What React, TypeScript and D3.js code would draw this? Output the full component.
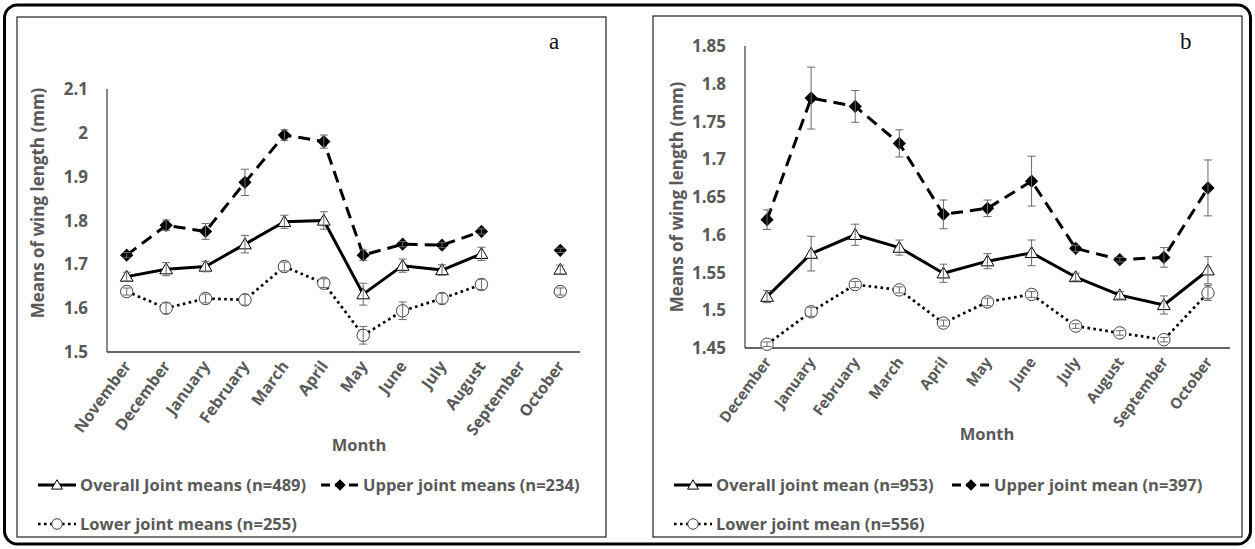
import * as d3 from "d3";

// ---------- data ----------
const monthsA = ["November", "December", "January", "February", "March", "April", "May", "June", "July", "August", "September", "October"];
const overallA = [1.672, 1.689, 1.695, 1.746, 1.797, 1.8, 1.632, 1.697, 1.687, 1.724, null, 1.688];
const overallErrA = [0.01, 0.015, 0.012, 0.02, 0.015, 0.02, 0.025, 0.015, 0.012, 0.015, null, 0.01];
const upperA = [1.721, 1.789, 1.775, 1.887, 1.995, 1.98, 1.721, 1.746, 1.744, 1.775, null, 1.732];
const upperErrA = [0.006, 0.012, 0.018, 0.03, 0.012, 0.015, 0.012, 0.006, 0.006, 0.006, null, 0.005];
const lowerA = [1.638, 1.6, 1.622, 1.619, 1.695, 1.657, 1.538, 1.594, 1.622, 1.654, null, 1.638];
const lowerErrA = [0.008, 0.012, 0.01, 0.012, 0.01, 0.01, 0.02, 0.02, 0.012, 0.012, null, 0.008];
const ticksA = [1.5, 1.6, 1.7, 1.8, 1.9, 2, 2.1];
const legendA = ["Overall Joint means (n=489)", "Upper joint means (n=234)", "Lower joint means (n=255)"];

const monthsB = ["December", "January", "February", "March", "April", "May", "June", "July", "August", "September", "October"];
const overallB = [1.518, 1.575, 1.6, 1.583, 1.549, 1.565, 1.576, 1.544, 1.52, 1.507, 1.553];
const overallErrB = [0.008, 0.023, 0.014, 0.01, 0.012, 0.01, 0.017, 0.005, 0.005, 0.012, 0.018];
const upperB = [1.62, 1.781, 1.77, 1.721, 1.627, 1.635, 1.671, 1.582, 1.567, 1.57, 1.662];
const upperErrB = [0.013, 0.041, 0.021, 0.018, 0.019, 0.011, 0.033, 0.004, 0.003, 0.013, 0.037];
const lowerB = [1.455, 1.498, 1.534, 1.527, 1.483, 1.511, 1.521, 1.479, 1.47, 1.461, 1.523];
const lowerErrB = [0.003, 0.006, 0.004, 0.004, 0.004, 0.005, 0.004, 0.003, 0.003, 0.003, 0.01];
const ticksB = [1.45, 1.5, 1.55, 1.6, 1.65, 1.7, 1.75, 1.8, 1.85];
const legendB = ["Overall joint mean (n=953)", "Upper joint mean (n=397)", "Lower joint mean (n=556)"];

const FONT = "'Open Sans', 'Noto Sans', sans-serif";
const GREY = "#595959";

type Kind = "tri" | "dia" | "circ";

function Marker({ kind, x, y, s = 1 }: { kind: Kind; x: number; y: number; s?: number }) {
  if (kind === "circ")
    return <circle cx={x} cy={y} r={6.2 * s} fill="#fff" stroke="#404040" strokeWidth={1} />;
  if (kind === "dia")
    return (
      <path
        d={d3.symbol(d3.symbolSquare, 88 * s * s)()!}
        transform={`translate(${x},${y}) rotate(45)`}
        fill="#000"
      />
    );
  return (
    <path
      d={d3.symbol(d3.symbolTriangle, 70 * s * s)()!}
      transform={`translate(${x},${y + 1})`}
      fill="#fff"
      stroke="#000"
      strokeWidth={1}
    />
  );
}

const styles: Record<Kind, { dash?: string; width: number }> = {
  tri: { width: 3 },
  dia: { dash: "12,7", width: 3 },
  circ: { dash: "2.6,3.4", width: 2.7 },
};

interface PanelProps {
  months: string[];
  series: { kind: Kind; values: (number | null)[]; errs: (number | null)[] }[];
  ticks: number[];
  legend: string[];
  frame: [number, number, number, number];
  plot: { x0: number; x1: number; y0: number; y1: number };
  titleX: number;
  titleY: number;
  monthX: number;
  monthY: number;
  letter: string;
  letterX: number;
  labelSize: number;
  labelAngle: number;
  leg: { x1: number; x2: number; row1: number; row2: number };
}

function Panel(p: PanelProps) {
  const x = d3.scaleBand().domain(p.months).range([p.plot.x0, p.plot.x1]);
  const y = d3
    .scaleLinear()
    .domain([p.ticks[0], p.ticks[p.ticks.length - 1]])
    .range([p.plot.y1, p.plot.y0]);
  const cx = (m: string) => x(m)! + x.bandwidth() / 2;
  const fmt = (v: number) => String(+v.toFixed(2));
  const [fx, fy, fw, fh] = p.frame;

  const legendItem = (i: number, lx: number, ly: number) => {
    const s = p.series[i];
    const st = styles[s.kind];
    return (
      <g key={i}>
        <line
          x1={lx}
          x2={lx + 38}
          y1={ly}
          y2={ly}
          stroke="#000"
          strokeWidth={st.width}
          strokeDasharray={s.kind === "dia" ? "9,5" : st.dash}
        />
        <Marker kind={s.kind} x={lx + 19} y={ly} s={0.85} />
        <text x={lx + 42} y={ly + 6} fill={GREY} fontSize={16.5} fontWeight={700} fontFamily={FONT}>
          {p.legend[i]}
        </text>
      </g>
    );
  };

  return (
    <g>
      <rect x={fx} y={fy} width={fw} height={fh} fill="#fff" stroke="#222" strokeWidth={1.2} />
      <text x={p.letterX} y={49} fontSize={23} fontFamily="'Liberation Serif', serif" fill="#111">
        {p.letter}
      </text>
      {/* axes */}
      <line x1={p.plot.x0} x2={p.plot.x0} y1={p.plot.y0} y2={p.plot.y1} stroke="#111" strokeWidth={1} />
      <line x1={p.plot.x0} x2={p.plot.x1} y1={p.plot.y1} y2={p.plot.y1} stroke="#333" strokeWidth={1.5} />
      {p.ticks.map((t) => (
        <text
          key={t}
          x={p.plot.x0 - 19}
          y={y(t) + 6}
          textAnchor="end"
          fill={GREY}
          fontSize={17}
          fontWeight={700}
          fontFamily={FONT}
        >
          {fmt(t)}
        </text>
      ))}
      {p.months.map((m) => (
        <text
          key={m}
          transform={`translate(${cx(m) + 5},${p.plot.y1 + 14}) rotate(${p.labelAngle})`}
          textAnchor="end"
          fill={GREY}
          fontSize={p.labelSize}
          fontWeight={700}
          fontFamily={FONT}
        >
          {m}
        </text>
      ))}
      <text
        transform={`translate(${p.titleX},${p.titleY}) rotate(-90)`}
        textAnchor="middle"
        fill={GREY}
        fontSize={17}
        fontWeight={700}
        fontFamily={FONT}
      >
        Means of wing length (mm)
      </text>
      <text x={p.monthX} y={p.monthY} textAnchor="middle" fill={GREY} fontSize={16.5} fontWeight={700} fontFamily={FONT}>
        Month
      </text>
      {/* series lines */}
      {p.series.map((s, si) => {
        const st = styles[s.kind];
        const line = d3
          .line<number | null>()
          .defined((d) => d != null)
          .x((_, i) => cx(p.months[i]))
          .y((d) => y(d as number));
        return (
          <path
            key={si}
            d={line(s.values)!}
            fill="none"
            stroke="#000"
            strokeWidth={st.width}
            strokeDasharray={st.dash}
            strokeLinejoin="round"
          />
        );
      })}
      {/* markers and error bars */}
      {p.series.map((s, si) => (
        <g key={si}>
          {s.values.map((v, i) =>
            v == null ? null : <Marker key={i} kind={s.kind} x={cx(p.months[i])} y={y(v)} />
          )}
          {s.values.map((v, i) => {
            const e = s.errs[i];
            if (v == null || e == null) return null;
            const px = cx(p.months[i]);
            return (
              <g key={"e" + i} stroke="#6a6a6a" strokeWidth={1}>
                <line x1={px} x2={px} y1={y(v + e)} y2={y(v - e)} />
                <line x1={px - 4} x2={px + 4} y1={y(v + e)} y2={y(v + e)} />
                <line x1={px - 4} x2={px + 4} y1={y(v - e)} y2={y(v - e)} />
              </g>
            );
          })}
        </g>
      ))}
      {/* legend */}
      {legendItem(0, p.leg.x1, p.leg.row1)}
      {legendItem(1, p.leg.x2, p.leg.row1)}
      {legendItem(2, p.leg.x1, p.leg.row2)}
    </g>
  );
}

export default function App() {
  return (
    <svg width={1255} height={549} style={{ position: "absolute", left: 0, top: 0, background: "#fff" }}>
      <rect x={0} y={0} width={1255} height={549} fill="#fff" />
      <rect x={4.5} y={5} width={1246} height={539} rx={13} fill="#fff" stroke="#000" strokeWidth={3} />
      <Panel
        months={monthsA}
        series={[
          { kind: "tri", values: overallA, errs: overallErrA },
          { kind: "dia", values: upperA, errs: upperErrA },
          { kind: "circ", values: lowerA, errs: lowerErrA },
        ]}
        ticks={ticksA}
        legend={legendA}
        frame={[17, 17, 589, 520]}
        plot={{ x0: 107, x1: 580, y0: 89, y1: 352 }}
        titleX={44}
        titleY={203}
        monthX={359}
        monthY={451}
        letter="a"
        letterX={549}
        labelSize={16}
        labelAngle={-54}
        leg={{ x1: 38, x2: 321, row1: 485, row2: 524 }}
      />
      <Panel
        months={monthsB}
        series={[
          { kind: "tri", values: overallB, errs: overallErrB },
          { kind: "dia", values: upperB, errs: upperErrB },
          { kind: "circ", values: lowerB, errs: lowerErrB },
        ]}
        ticks={ticksB}
        legend={legendB}
        frame={[653, 16, 589, 521]}
        plot={{ x0: 745, x1: 1230, y0: 46, y1: 348 }}
        titleX={683}
        titleY={197}
        monthX={987}
        monthY={440}
        letter="b"
        letterX={1180}
        labelSize={15}
        labelAngle={-54}
        leg={{ x1: 674, x2: 952, row1: 485, row2: 524 }}
      />
    </svg>
  );
}
